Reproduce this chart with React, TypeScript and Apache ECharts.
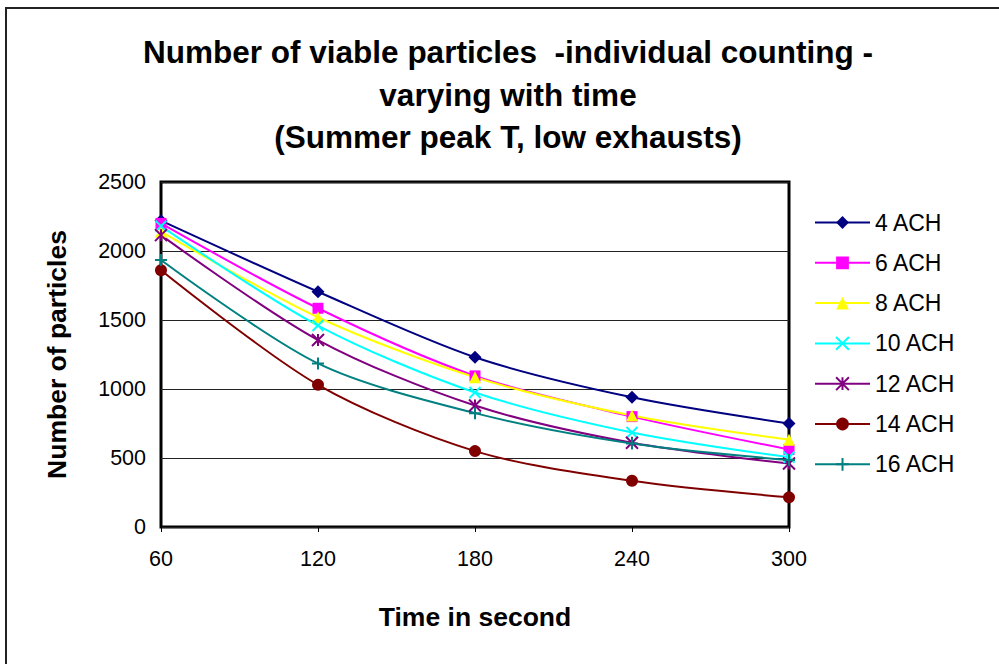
import React, { useEffect, useRef } from "react";
import * as echarts from "echarts";

// Sampling times (seconds)
const times = [60, 120, 180, 240, 300];

// Viable particle counts per air-change rate
const ach4 = [2220, 1705, 1230, 940, 750];
const ach6 = [2200, 1585, 1095, 800, 562];
const ach8 = [2140, 1520, 1085, 808, 632];
const ach10 = [2180, 1460, 975, 685, 505];
const ach12 = [2115, 1355, 880, 610, 460];
const ach14 = [1860, 1030, 550, 335, 215];
const ach16 = [1935, 1185, 825, 605, 485];

const seriesNames = ["4 ACH", "6 ACH", "8 ACH", "10 ACH", "12 ACH", "14 ACH", "16 ACH"];
const titleLines = [
  "Number of viable particles  -individual counting -",
  "varying with time",
  "(Summer peak T, low exhausts)",
];

const FONT = "'Liberation Sans', Arial, Helvetica, sans-serif";

const CROSS = "path://M0,0L10,10M10,0L0,10";
const ASTERISK = "path://M0,0L10,10M10,0L0,10M5,0L5,10";
const PLUS = "path://M5,0L5,10M0,5L10,5";

const seriesDefs = [
  { name: seriesNames[0], data: ach4, color: "#000080", symbol: "diamond", size: 13, stroke: false },
  { name: seriesNames[1], data: ach6, color: "#FF00FF", symbol: "rect", size: 11, stroke: false },
  { name: seriesNames[2], data: ach8, color: "#FFFF00", symbol: "triangle", size: 12, stroke: false },
  { name: seriesNames[3], data: ach10, color: "#00FFFF", symbol: CROSS, size: 11, stroke: true },
  { name: seriesNames[4], data: ach12, color: "#800080", symbol: ASTERISK, size: 12, stroke: true },
  { name: seriesNames[5], data: ach14, color: "#800000", symbol: "circle", size: 12, stroke: false },
  { name: seriesNames[6], data: ach16, color: "#008080", symbol: PLUS, size: 12, stroke: true },
];

export default function App() {
  const ref = useRef<HTMLDivElement>(null);

  useEffect(() => {
    if (!ref.current) return;
    const chart = echarts.init(ref.current, undefined, { renderer: "svg" });

    const series = seriesDefs.map((s) => ({
      name: s.name,
      type: "line",
      data: s.data.map((v, i) => [times[i], v]),
      smooth: 0.3,
      symbol: s.symbol,
      symbolSize: s.size,
      showAllSymbol: true,
      lineStyle: { color: s.color, width: 2 },
      itemStyle: s.stroke
        ? { color: s.color, borderColor: s.color, borderWidth: 2 }
        : { color: s.color, borderWidth: 0 },
      emphasis: { disabled: true },
    }));

    chart.setOption({
      animation: false,
      backgroundColor: "#ffffff",
      textStyle: { fontFamily: FONT, color: "#000" },
      graphic: [
        {
          type: "rect",
          shape: { x: 6, y: 8, width: 1000, height: 700 },
          style: { fill: "none", stroke: "#222", lineWidth: 2 },
          silent: true,
        },
        ...titleLines.map((t, i) => ({
          type: "text",
          x: 508,
          y: 52 + i * 42.5,
          style: {
            text: t,
            font: `bold 31.5px ${FONT}`,
            fill: "#000",
            textAlign: "center",
            textVerticalAlign: "middle",
          },
          silent: true,
        })),
      ],
      legend: {
        orient: "vertical",
        left: 814,
        top: 211,
        padding: 0,
        itemWidth: 55,
        itemHeight: 16,
        itemGap: 17.3,
        textStyle: { fontFamily: FONT, fontSize: 23, color: "#000" },
        data: seriesNames,
      },
      grid: {
        left: 161,
        top: 182,
        right: 999 - 789,
        bottom: 664 - 527,
        show: true,
        borderColor: "#000",
        borderWidth: 3,
        backgroundColor: "transparent",
      },
      xAxis: {
        type: "value",
        min: 60,
        max: 300,
        interval: 60,
        name: "Time in second",
        nameLocation: "middle",
        nameGap: 76,
        nameTextStyle: { fontFamily: FONT, fontSize: 26.5, fontWeight: "bold", color: "#000" },
        axisLine: { show: false },
        axisTick: { show: true, length: 5, lineStyle: { color: "#000", width: 1 } },
        axisLabel: { fontFamily: FONT, fontSize: 21.5, color: "#000", margin: 21 },
        splitLine: { show: false },
      },
      yAxis: {
        type: "value",
        min: 0,
        max: 2500,
        interval: 500,
        name: "Number of particles",
        nameLocation: "middle",
        nameGap: 91,
        nameTextStyle: { fontFamily: FONT, fontSize: 26.5, fontWeight: "bold", color: "#000" },
        axisLine: { show: false },
        axisTick: { show: false },
        axisLabel: {
          fontFamily: FONT,
          fontSize: 21.5,
          color: "#000",
          margin: 15,
          formatter: (v: number) => String(v),
        },
        splitLine: { show: true, lineStyle: { color: "#222", width: 1 } },
      },
      series,
    });

    return () => chart.dispose();
  }, []);

  return (
    <div
      ref={ref}
      style={{ position: "fixed", left: 0, top: 0, width: 999, height: 664, background: "#fff" }}
    />
  );
}
